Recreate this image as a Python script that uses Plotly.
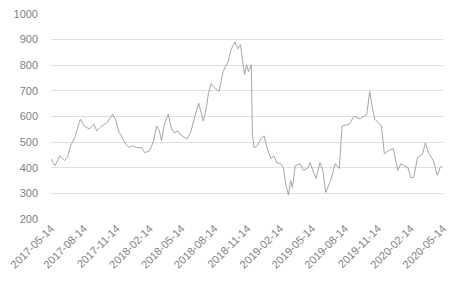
import plotly.graph_objects as go

dates = [
    "2017-05-14", "2017-05-25", "2017-06-08", "2017-06-21", "2017-06-29", "2017-07-08",
    "2017-07-19", "2017-07-27", "2017-08-04", "2017-08-15", "2017-08-29", "2017-09-11",
    "2017-09-19", "2017-10-03", "2017-10-17", "2017-10-30", "2017-11-02", "2017-11-10",
    "2017-11-21", "2017-11-30", "2017-12-08", "2017-12-19", "2017-12-27", "2018-01-10",
    "2018-01-23", "2018-01-31", "2018-02-14", "2018-02-25", "2018-03-05", "2018-03-13",
    "2018-03-19", "2018-03-27", "2018-04-07", "2018-04-15", "2018-04-23", "2018-05-04",
    "2018-05-10", "2018-05-29", "2018-06-09", "2018-06-20", "2018-07-01", "2018-07-14",
    "2018-07-23", "2018-07-28", "2018-08-05", "2018-08-16", "2018-08-27", "2018-09-07",
    "2018-09-21", "2018-09-29", "2018-10-10", "2018-10-18", "2018-10-26", "2018-11-01",
    "2018-11-06", "2018-11-12", "2018-11-17", "2018-11-25", "2018-11-28", "2018-12-03",
    "2018-12-12", "2018-12-23", "2018-12-31", "2019-01-08", "2019-01-19", "2019-01-27",
    "2019-02-04", "2019-02-15", "2019-02-23", "2019-03-01", "2019-03-09", "2019-03-15",
    "2019-03-20", "2019-03-28", "2019-04-11", "2019-04-19", "2019-05-03", "2019-05-08",
    "2019-05-25", "2019-06-05", "2019-06-13", "2019-06-21", "2019-07-05", "2019-07-18",
    "2019-07-29", "2019-08-06", "2019-08-26", "2019-09-08", "2019-09-25", "2019-10-14",
    "2019-10-22", "2019-10-30", "2019-11-05", "2019-11-24", "2019-12-02", "2019-12-13",
    "2019-12-27", "2020-01-09", "2020-01-17", "2020-02-06", "2020-02-14", "2020-02-22",
    "2020-03-04", "2020-03-18", "2020-03-26", "2020-04-03", "2020-04-17", "2020-04-28",
    "2020-05-06", "2020-05-11",
]
values = [
    435, 408, 447, 428, 440, 486,
    517, 555, 590, 563, 551, 570,
    544, 563, 575, 601, 609, 590,
    536, 517, 493, 478, 486, 478,
    478, 459, 466, 505, 563, 544,
    505, 570, 609, 555, 536, 544,
    530, 512, 540, 600, 652, 582,
    640, 690, 729, 710, 698, 775,
    814, 860, 891, 864, 880, 814,
    764, 802, 775, 802, 532, 478,
    486, 517, 524, 478, 435, 447,
    420, 416, 400, 339, 293, 350,
    323, 408, 416, 390, 400, 420,
    358, 420, 390, 304, 350, 416,
    397, 563, 570, 601, 590, 609,
    698, 632, 590, 563, 455, 466,
    474, 389, 416, 400, 362, 362,
    440, 455, 497, 459, 428, 370,
    400, 408,
]
tick_dates = [
    "2017-05-14", "2017-08-14", "2017-11-14", "2018-02-14", "2018-05-14",
    "2018-08-14", "2018-11-14", "2019-02-14", "2019-05-14", "2019-08-14",
    "2019-11-14", "2020-02-14", "2020-05-14",
]
y_ticks = [200, 300, 400, 500, 600, 700, 800, 900, 1000]

fig = go.Figure()
fig.add_trace(go.Scatter(
    x=dates, y=values, mode="lines",
    line=dict(color="#a6a6a6", width=1),
    hoverinfo="skip",
))

fig.update_layout(
    width=456, height=282,
    margin=dict(l=47, r=8, t=12, b=63),
    paper_bgcolor="white", plot_bgcolor="white",
    showlegend=False,
    font=dict(family="Liberation Sans, Arial, sans-serif", size=11, color="#7f7f7f"),
)
fig.update_xaxes(
    type="date",
    range=["2017-05-14", "2020-05-14"],
    tickvals=tick_dates,
    ticktext=tick_dates,
    tickangle=-45,
    showgrid=False, zeroline=False, showline=False,
    ticks="",
    tickfont=dict(size=11, color="#7f7f7f"),
)
fig.update_yaxes(
    range=[200, 1000],
    tickvals=y_ticks,
    showgrid=True, gridcolor="#e0e0e0", gridwidth=1,
    zeroline=False, showline=False,
    ticks="",
    ticklabelstandoff=12,
    tickfont=dict(size=11, color="#7f7f7f"),
)

fig.write_html("out.html")
